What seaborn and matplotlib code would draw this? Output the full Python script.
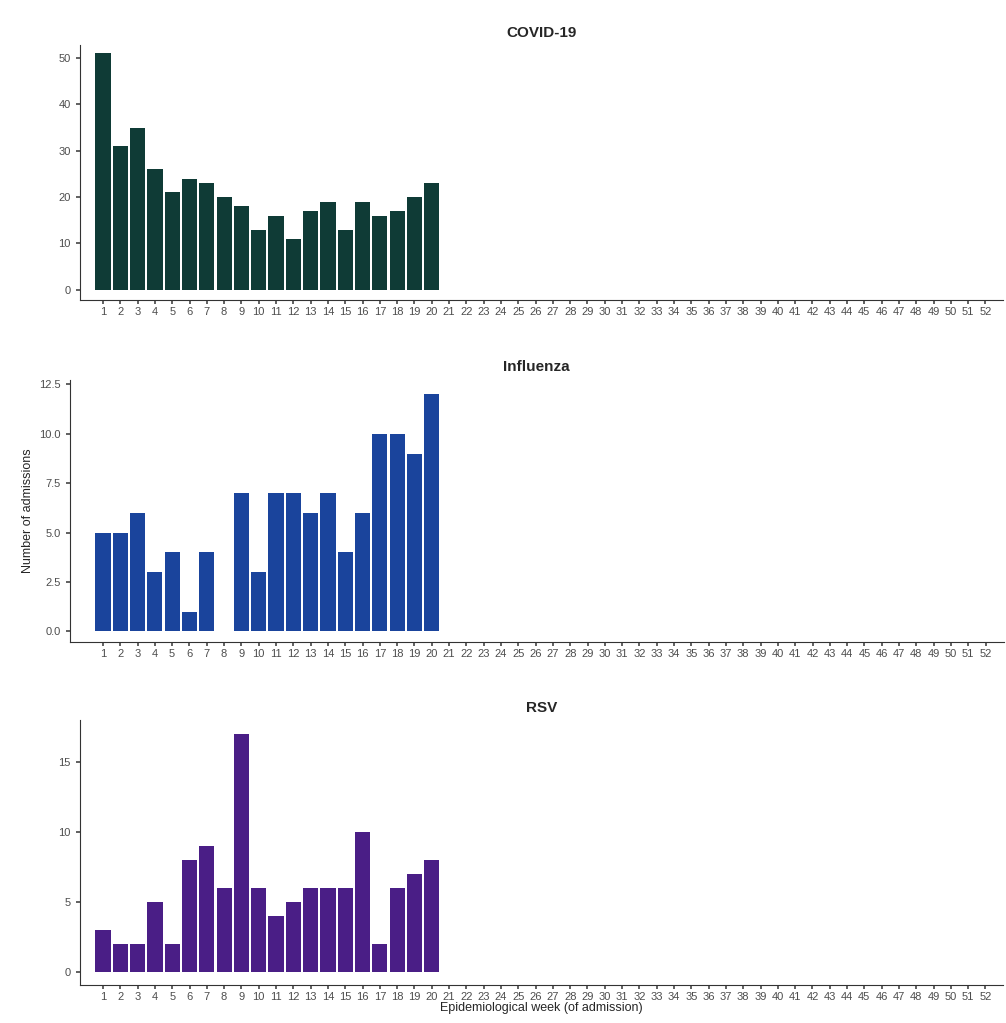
import matplotlib
matplotlib.use("Agg")
import matplotlib.pyplot as plt
import seaborn as sns
import pandas as pd

weeks = list(range(1, 21))
all_weeks = [str(w) for w in range(1, 53)]
covid = [51, 31, 35, 26, 21, 24, 23, 20, 18, 13, 16, 11, 17, 19, 13, 19, 16, 17, 20, 23]
flu = [5, 5, 6, 3, 4, 1, 4, 0, 7, 3, 7, 7, 6, 7, 4, 6, 10, 10, 9, 12]
rsv = [3, 2, 2, 5, 2, 8, 9, 6, 17, 6, 4, 5, 6, 6, 6, 10, 2, 6, 7, 8]

panels = [
    ("COVID-19", covid, "#0f3b36", [0, 10, 20, 30, 40, 50], ["0", "10", "20", "30", "40", "50"], (-2.15, 52.8), -1.33),
    ("Influenza", flu, "#1a449c", [0, 2.5, 5, 7.5, 10, 12.5], ["0.0", "2.5", "5.0", "7.5", "10.0", "12.5"], (-0.56, 12.75), -1.9),
    ("RSV", rsv, "#4a1e86", [0, 5, 10, 15], ["0", "5", "10", "15"], (-0.93, 18.0), -1.33),
]

sns.set_theme(style="ticks")
plt.rcParams['font.family'] = ['Liberation Sans', 'DejaVu Sans']

fig = plt.figure(figsize=(10.06, 10.23), dpi=100)
rects = [[0.0795, 0.707, 0.918, 0.249], [0.0696, 0.372, 0.928, 0.257], [0.0795, 0.037, 0.918, 0.259]]

for (name, vals, col, yt, ytl, yl, xl), r in zip(panels, rects):
    ax = fig.add_axes(r)
    df = pd.DataFrame({"week": [str(w) for w in weeks], "n": vals})
    sns.barplot(data=df, x="week", y="n", order=all_weeks, color=col,
                saturation=1, width=0.88, linewidth=0, ax=ax)
    ax.set_xlim(xl, 52.04)
    ax.set_ylim(*yl)
    ax.set_title(name, fontsize=11, fontweight="bold", pad=6)
    ax.set_yticks(yt)
    ax.set_yticklabels(ytl)
    ax.tick_params(labelsize=8, colors="#4d4d4d", length=3)
    ax.tick_params(axis="x", pad=2)
    ax.set_xlabel("")
    ax.set_ylabel("")
    for s in ["left", "bottom"]:
        ax.spines[s].set_color("#333333")
        ax.spines[s].set_linewidth(0.8)
    sns.despine(ax=ax)
    if name == "Influenza":
        ax.set_ylabel("Number of admissions", fontsize=9)
    if name == "RSV":
        ax.set_xlabel("Epidemiological week (of admission)", fontsize=9, labelpad=0)

fig.savefig("out.png", dpi=100)
